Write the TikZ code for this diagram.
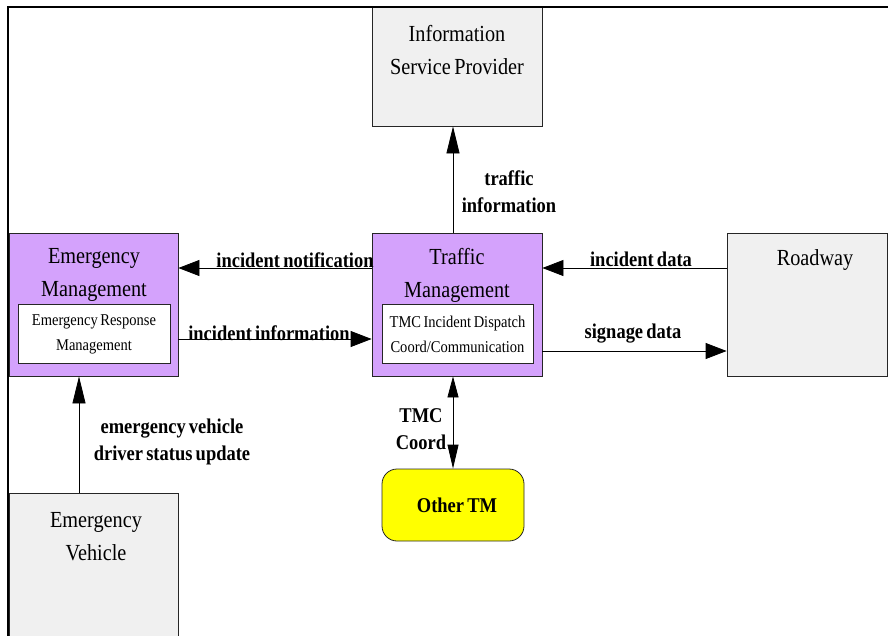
\documentclass[tikz,border=0pt]{standalone}
\usepackage{fontspec}
\setmainfont{Liberation Serif}[FakeStretch=0.88, WordSpace=0.7]
\usetikzlibrary{arrows.meta,calc}
\definecolor{tmpurple}{RGB}{212,162,252}
\definecolor{boxgray}{RGB}{240,240,240}
\definecolor{tmyellow}{RGB}{255,255,0}
\begin{document}
\begin{tikzpicture}[x=1pt,y=-1pt,
  box/.style={draw=black!85, line width=0.8pt, inner sep=0pt,
    minimum width=170pt, minimum height=143pt},
  purplebox/.style={box, fill=tmpurple},
  graybox/.style={box, fill=boxgray},
  innerbox/.style={draw=black!85, fill=white, line width=0.8pt, inner sep=0pt,
    minimum width=152pt, minimum height=59pt, align=center,
    font=\fontsize{16.5}{25}\selectfont},
  title/.style={align=center, inner sep=0pt, font=\fontsize{23}{33}\selectfont},
  flowlabel/.style={align=center, inner sep=0pt,
    font=\fontsize{21}{27}\selectfont\bfseries},
  conn/.style={line width=0.8pt},
  harr/.style={conn, -{Triangle[length=21pt,width=16pt]}},
  varr/.style={conn, -{Triangle[length=27pt,width=13pt]}},
  darr/.style={conn, {Triangle[length=21pt,width=11pt]}-{Triangle[length=24pt,width=11pt]}},
  frame/.style={line width=2pt, line cap=rect}
]
\useasboundingbox (0,0) rectangle (888,635);
\begin{scope}
\clip (0,0) rectangle (888,635);

% boxes
\node[graybox, minimum height=119pt] (isp) at (457,66.5) {};
\node[purplebox] (tm) at (457,304.5) {};
\node[purplebox, minimum width=169pt] (em) at (93.5,304.5) {};
\node[graybox, minimum width=160pt] (rw) at (807,304.5) {};
\node[graybox, minimum width=169pt, minimum height=147pt] (ev) at (93.5,566.5) {};
\node[draw=black!85, fill=tmyellow, line width=0.8pt, rounded corners=15pt,
  minimum width=142pt, minimum height=72pt, inner sep=0pt] (other) at (453,505) {};

% sub-function boxes
\node[innerbox] (emsub) at (94,334) {Emergency Response\\Management};
\node[innerbox, minimum width=151pt] (tmsub) at (457.5,334) {TMC Incident Dispatch\\Coord/Communication};

% titles
\node[title] (isptxt) at (457,50) {Information\\Service Provider};
\node[title] (emtxt) at (94,275) {Emergency\\Management};
\node[title] (tmtxt) at (457,275) {Traffic\\Management};
\node[title] (rwtxt) at (815,260) {Roadway};
\node[title] (evtxt) at (96,537) {Emergency\\Vehicle};
\node[flowlabel] (othertxt) at (457,505) {Other TM};

% flow levels
\coordinate (xup) at (453,0);
\coordinate (xev) at (79,0);
\coordinate (ynote) at (0,268);
\coordinate (yinfo) at (0,339);
\coordinate (ysign) at (0,351);

% flows
\draw[varr] (tm.north -| xup) -- (isp.south -| xup);
\draw[harr] (tm.west |- ynote) -- (em.east |- ynote);
\draw[harr] (em.east |- yinfo) -- (tm.west |- yinfo);
\draw[harr] (rw.west |- ynote) -- (tm.east |- ynote);
\draw[harr] (tm.east |- ysign) -- (rw.west |- ysign);
\draw[darr] (tm.south -| xup) -- (other.north -| xup);
\draw[varr] (ev.north -| xev) -- (em.south -| xev);

% flow labels
\node[flowlabel] (lbltraffic) at (509,192) {traffic\\information};
\node[flowlabel, anchor=base] (lblnote) at (295,267) {incident notification};
\node[flowlabel, anchor=base] (lblinfo) at (269,340) {incident information};
\node[flowlabel, anchor=base] (lbldata) at (641,266) {incident data};
\node[flowlabel, anchor=base] (lblsign) at (633,338) {signage data};
\node[flowlabel] (lblcoord) at (421,429) {TMC\\Coord};
\node[flowlabel] (lblev) at (172,442) {emergency vehicle\\driver status update};

% outer frame
\draw[frame] (890,7) -- (8,7) -- (8,640);
\end{scope}
\end{tikzpicture}
\end{document}
